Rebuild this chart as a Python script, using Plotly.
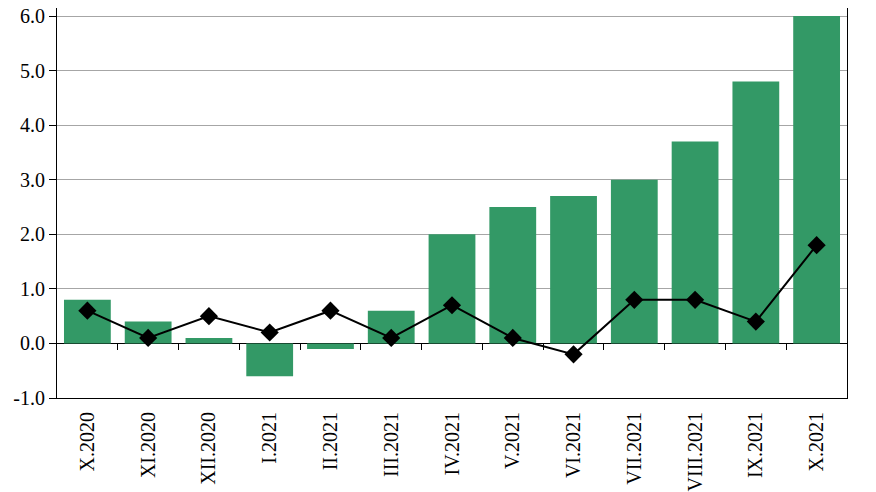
import plotly.graph_objects as go

categories = ["X.2020", "XI.2020", "XII.2020", "I.2021", "II.2021", "III.2021",
              "IV.2021", "V.2021", "VI.2021", "VII.2021", "VIII.2021", "IX.2021", "X.2021"]
bar_values = [0.8, 0.4, 0.1, -0.6, -0.1, 0.6, 2.0, 2.5, 2.7, 3.0, 3.7, 4.8, 6.0]
line_values = [0.6, 0.1, 0.5, 0.2, 0.6, 0.1, 0.7, 0.1, -0.2, 0.8, 0.8, 0.4, 1.8]
y_ticks = [-1, 0, 1, 2, 3, 4, 5, 6]
y_tick_labels = ["-1.0", "0.0", "1.0", "2.0", "3.0", "4.0", "5.0", "6.0"]

y_min, y_max = -1.0, 6.147
n = len(categories)
idx = list(range(n))

fig = go.Figure()
fig.add_trace(go.Bar(x=idx, y=bar_values, marker=dict(color="#339966", line=dict(width=0)),
                     showlegend=False))
fig.add_trace(go.Scatter(x=idx, y=line_values, mode="lines+markers",
                         line=dict(color="black", width=2),
                         marker=dict(symbol="diamond", size=14, color="black"),
                         showlegend=False))

font_family = "Times New Roman, Liberation Serif, Tinos, serif"
fig.update_layout(
    width=876, height=492,
    margin=dict(l=49, r=37, t=0, b=102),
    paper_bgcolor="white", plot_bgcolor="white",
    bargap=0.23,
    font=dict(family=font_family, size=20, color="black"),
    xaxis=dict(
        tickmode="array", tickvals=idx, ticktext=categories,
        tickangle=-90, range=[-0.5, n - 0.5],
        showline=True, linecolor="black", linewidth=1, mirror=False,
        ticks="outside", ticklen=5, tickcolor="rgba(0,0,0,0)",
        showgrid=False, zeroline=False, automargin=False,
        tickfont=dict(family=font_family, size=20, color="black"),
    ),
    xaxis2=dict(
        overlaying="x", anchor="free", position=(0 - y_min) / (y_max - y_min),
        range=[-0.5, n - 0.5], side="bottom",
        tickmode="array", tickvals=[i + 0.5 for i in range(n - 1)],
        ticks="outside", ticklen=6, tickcolor="black", tickwidth=1,
        showticklabels=False, showgrid=False, showline=False, zeroline=False,
    ),
    yaxis=dict(
        range=[y_min, y_max], tickmode="array", tickvals=y_ticks, ticktext=y_tick_labels,
        showline=True, linecolor="black", linewidth=1, mirror=True,
        ticks="outside", ticklen=7, tickcolor="black", ticklabeloverflow="allow",
        showgrid=True, gridcolor="#a6a6a6", gridwidth=1, automargin=False,
        zeroline=True, zerolinecolor="black", zerolinewidth=1,
        tickfont=dict(family=font_family, size=20, color="black"),
    ),
)
fig.add_trace(go.Scatter(x=[0], y=[0], xaxis="x2", mode="markers",
                         marker=dict(opacity=0), showlegend=False, hoverinfo="skip"))

fig.write_html("out.html")
